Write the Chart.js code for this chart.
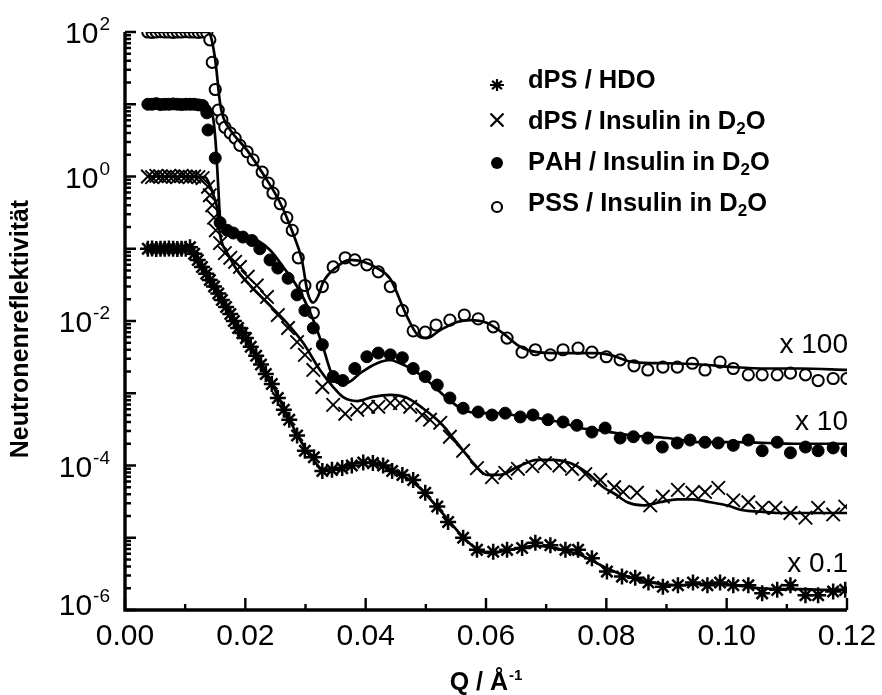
<!DOCTYPE html>
<html>
<head>
<meta charset="utf-8">
<style>
  html, body { margin: 0; padding: 0; background: #fff; }
  #wrap { width: 882px; height: 695px; }
</style>
<script src="https://cdn.jsdelivr.net/npm/chart.js@4.4.1/dist/chart.umd.min.js"></script>
</head>
<body>
<div id="wrap"><canvas id="refl" width="882" height="695"></canvas></div>
<script>
// dPS / HDO (x 0.1)
const qHDO = [0.0038, 0.0045, 0.0052, 0.0059, 0.0066, 0.0073, 0.0080, 0.0087, 0.0094, 0.0101,
  0.0108, 0.0115, 0.0121, 0.0128, 0.0135, 0.0141, 0.0148, 0.0155, 0.0161, 0.0168, 0.0175, 0.0181,
  0.0188, 0.0195, 0.0201, 0.0209, 0.0218, 0.0226, 0.0234, 0.0244, 0.0254, 0.0264, 0.0273, 0.0286,
  0.0299, 0.0314, 0.0328, 0.0344, 0.0361, 0.0377, 0.0396, 0.0412, 0.0429, 0.0444, 0.0461, 0.0479,
  0.0499, 0.0519, 0.0537, 0.0562, 0.0585, 0.0612, 0.0635, 0.0660, 0.0682, 0.0707, 0.0732, 0.0753,
  0.0776, 0.0801, 0.0826, 0.0848, 0.0870, 0.0894, 0.0919, 0.0944, 0.0968, 0.0989, 0.1011, 0.1036,
  0.1059, 0.1084, 0.1106, 0.1131, 0.1152, 0.1177, 0.1197];
const rHDO = [0.10, 0.101, 0.099, 0.10, 0.10, 0.101, 0.10, 0.099, 0.10, 0.10,
  0.105, 0.085, 0.070, 0.056, 0.045, 0.037, 0.030, 0.024, 0.0195, 0.0156, 0.0125, 0.0100,
  0.0080, 0.0068, 0.0058, 0.0044, 0.0033, 0.0025, 0.00185, 0.00134, 8.6e-4, 5.9e-4, 4.3e-4, 2.6e-4,
  1.6e-4, 1.3e-4, 8.4e-5, 8.7e-5, 9.2e-5, 1.0e-4, 1.1e-4, 1.08e-4, 1.0e-4, 8.4e-5, 7.4e-5, 6.3e-5,
  4.2e-5, 2.7e-5, 1.65e-5, 1.0e-5, 6.8e-6, 6.4e-6, 6.8e-6, 7.2e-6, 8.5e-6, 7.9e-6, 6.8e-6, 6.8e-6,
  5.2e-6, 3.4e-6, 2.9e-6, 2.8e-6, 2.4e-6, 2.1e-6, 2.2e-6, 2.4e-6, 2.2e-6, 2.4e-6, 2.2e-6, 2.2e-6,
  1.7e-6, 1.9e-6, 2.2e-6, 1.6e-6, 1.6e-6, 1.8e-6, 1.9e-6];
const qFitHDO = [0.0037, 0.0105, 0.0116, 0.0141, 0.0175, 0.0208, 0.0241, 0.0266, 0.0291, 0.0311,
  0.0328, 0.0344, 0.0366, 0.0391, 0.0416, 0.0441, 0.0466, 0.0490, 0.0515, 0.0540, 0.0565, 0.0587,
  0.0607, 0.0632, 0.0657, 0.0682, 0.0707, 0.0732, 0.0756, 0.0781, 0.0806, 0.0831, 0.0856, 0.0889,
  0.0923, 0.0956, 0.0989, 0.1022, 0.1056, 0.1089, 0.1122, 0.1155, 0.12];
const rFitHDO = [0.1, 0.1, 0.079, 0.037, 0.0125, 0.0045, 0.00153, 5.7e-4, 2.25e-4, 1.27e-4,
  8.9e-5, 8.7e-5, 9.8e-5, 1.1e-4, 1.08e-4, 8.9e-5, 6.9e-5, 4.9e-5, 2.9e-5, 1.65e-5, 9.6e-6, 6.8e-6,
  6.1e-6, 6.6e-6, 7.2e-6, 7.7e-6, 7.4e-6, 6.6e-6, 5.8e-6, 4.6e-6, 3.6e-6, 3.0e-6, 2.6e-6, 2.3e-6,
  2.2e-6, 2.3e-6, 2.3e-6, 2.15e-6, 2.0e-6, 1.95e-6, 1.95e-6, 1.9e-6, 1.9e-6];

// dPS / Insulin in D2O (x 1)
const qIns = [0.0038, 0.0045, 0.0052, 0.0059, 0.0066, 0.0073, 0.0080, 0.0087, 0.0094, 0.0101,
  0.0108, 0.0115, 0.0122, 0.0129,
  0.0138, 0.0141, 0.0145, 0.0148, 0.0151, 0.0158, 0.0166, 0.0175, 0.0183, 0.0191, 0.0204, 0.0219,
  0.0236, 0.0254, 0.0271, 0.0286, 0.0299, 0.0313, 0.0328, 0.0346, 0.0366, 0.0386, 0.0404, 0.0421,
  0.0441, 0.0457, 0.0474, 0.0494, 0.0507, 0.0524, 0.0540, 0.0562, 0.0585, 0.0610, 0.0632, 0.0653,
  0.0677, 0.0698, 0.0722, 0.0743, 0.0765, 0.0790, 0.0813, 0.0828, 0.0851, 0.0873, 0.0894, 0.0919,
  0.0943, 0.0964, 0.0986, 0.1011, 0.1036, 0.1059, 0.1081, 0.1106, 0.1131, 0.1152, 0.1177, 0.1197];
const rIns = [1.0, 0.98, 1.02, 1.0, 0.99, 1.01, 1.0, 0.98, 1.02, 1.0,
  0.99, 1.0, 0.98, 0.95,
  0.72, 0.55, 0.40, 0.27, 0.18, 0.12, 0.087, 0.075, 0.066, 0.056, 0.041, 0.031,
  0.0215, 0.0121, 0.0080, 0.0051, 0.0034, 0.0021, 0.00122, 6.9e-4, 5.2e-4, 5.9e-4, 6.5e-4, 6.5e-4,
  7.3e-4, 7.3e-4, 6.5e-4, 5.0e-4, 4.3e-4, 3.9e-4, 2.5e-4, 1.6e-4, 9.2e-5, 6.9e-5, 7.9e-5, 9.0e-5,
  9.8e-5, 1.08e-4, 1.0e-4, 9.0e-5, 7.6e-5, 6.3e-5, 5.0e-5, 4.3e-5, 4.2e-5, 2.8e-5, 3.7e-5, 4.6e-5,
  4.2e-5, 4.3e-5, 4.9e-5, 3.3e-5, 3.1e-5, 2.6e-5, 2.6e-5, 2.2e-5, 1.9e-5, 2.6e-5, 2.1e-5, 2.7e-5];
const qFitIns = [0.0037, 0.0133, 0.0141, 0.0148, 0.0153, 0.0156, 0.0160, 0.0170, 0.0186, 0.0208,
  0.0236, 0.0269, 0.0296, 0.0324, 0.0346, 0.0362, 0.0386, 0.0412, 0.0441, 0.0469, 0.0495, 0.0524,
  0.0552, 0.0579, 0.0602, 0.0623, 0.0652, 0.0685, 0.0712, 0.0740, 0.0768, 0.0795, 0.0815, 0.0835,
  0.0861, 0.0889, 0.0918, 0.0944, 0.0973, 0.1001, 0.1027, 0.1056, 0.1084, 0.1122, 0.12];
const rFitIns = [1.0, 0.98, 0.76, 0.52, 0.37, 0.21, 0.13, 0.087, 0.051, 0.031,
  0.018, 0.0094, 0.0050, 0.0021, 0.00122, 8.9e-4, 7.8e-4, 8.9e-4, 9.5e-4, 8.6e-4, 6.2e-4, 3.9e-4,
  2.05e-4, 1.08e-4, 7.4e-5, 7.4e-5, 9.5e-5, 1.2e-4, 1.2e-4, 1.08e-4, 7.9e-5, 5.0e-5, 4.0e-5, 3.1e-5,
  2.8e-5, 3.1e-5, 3.4e-5, 3.4e-5, 3.1e-5, 2.8e-5, 2.4e-5, 2.3e-5, 2.2e-5, 2.2e-5, 2.2e-5];

// PAH / Insulin in D2O (x 10)
const qPAH = [0.0038, 0.0045, 0.0052, 0.0059, 0.0066, 0.0073, 0.0080, 0.0087, 0.0094, 0.0101,
  0.0108, 0.0115, 0.0122, 0.0129,
  0.0136, 0.0138, 0.0150, 0.0158, 0.0170, 0.0180, 0.0196, 0.0211, 0.0224, 0.0241, 0.0254, 0.0271,
  0.0286, 0.0299, 0.0313, 0.0328, 0.0346, 0.0362, 0.0382, 0.0402, 0.0421, 0.0441, 0.0461, 0.0479,
  0.0499, 0.0519, 0.0540, 0.0562, 0.0587, 0.0610, 0.0632, 0.0657, 0.0678, 0.0703, 0.0728, 0.0751,
  0.0776, 0.0798, 0.0823, 0.0845, 0.0869, 0.0893, 0.0918, 0.0939, 0.0964, 0.0986, 0.1011, 0.1036,
  0.1059, 0.1084, 0.1106, 0.1131, 0.1152, 0.1177, 0.1200];
const rPAH = [10, 10, 10.2, 9.9, 10, 10, 10.1, 10, 9.9, 10,
  10, 10, 9.8, 9.6,
  7.6, 4.4, 1.8, 0.23, 0.18, 0.165, 0.145, 0.13, 0.10, 0.070, 0.054, 0.039,
  0.023, 0.014, 0.0080, 0.0047, 0.0017, 0.0015, 0.0022, 0.0032, 0.0036, 0.0034, 0.0031, 0.0022,
  0.0017, 0.0013, 8.6e-4, 6.2e-4, 5.5e-4, 5.0e-4, 5.3e-4, 4.7e-4, 5.0e-4, 4.3e-4, 4.0e-4, 3.6e-4,
  2.9e-4, 3.3e-4, 2.4e-4, 2.5e-4, 2.4e-4, 1.8e-4, 2.05e-4, 2.25e-4, 2.1e-4, 2.05e-4, 1.9e-4, 2.25e-4,
  1.6e-4, 2.1e-4, 1.5e-4, 1.8e-4, 1.6e-4, 1.75e-4, 1.6e-4];
const qFitPAH = [0.0037, 0.0133, 0.0146, 0.0151, 0.0155, 0.0158, 0.0166, 0.0191, 0.0219, 0.0241,
  0.0263, 0.0286, 0.0308, 0.0329, 0.0341, 0.0352, 0.0369, 0.0391, 0.0419, 0.0441, 0.0452, 0.0479,
  0.0507, 0.0535, 0.0562, 0.0590, 0.0618, 0.0645, 0.0673, 0.0702, 0.0728, 0.0756, 0.0785, 0.0806,
  0.0845, 0.0901, 0.0956, 0.1011, 0.1067, 0.1122, 0.12];
const rFitPAH = [10, 9.8, 6.7, 2.7, 0.72, 0.275, 0.21, 0.165, 0.132, 0.096,
  0.056, 0.030, 0.013, 0.0044, 0.0021, 0.0014, 0.0014, 0.0019, 0.0026, 0.0029, 0.0027, 0.0021,
  0.0014, 8.6e-4, 5.9e-4, 5.3e-4, 5.3e-4, 5.0e-4, 4.7e-4, 4.3e-4, 3.9e-4, 3.3e-4, 3.1e-4, 2.9e-4,
  2.6e-4, 2.4e-4, 2.1e-4, 2.1e-4, 2.05e-4, 2.0e-4, 2.0e-4];

// PSS / Insulin in D2O (x 100)
const qPSS = [0.0038, 0.0045, 0.0052, 0.0059, 0.0066, 0.0073, 0.0080, 0.0087, 0.0094, 0.0101,
  0.0108, 0.0115, 0.0122, 0.0129, 0.0136,
  0.0141, 0.0145, 0.0150, 0.0155, 0.0161, 0.0166, 0.0175, 0.0183, 0.0191, 0.0203, 0.0213, 0.0228,
  0.0238, 0.0246, 0.0258, 0.0269, 0.0278, 0.0288, 0.0299, 0.0313, 0.0328, 0.0346, 0.0366, 0.0382,
  0.0402, 0.0421, 0.0441, 0.0461, 0.0479, 0.0499, 0.0517, 0.0540, 0.0564, 0.0587, 0.0612, 0.0635,
  0.0660, 0.0682, 0.0707, 0.0728, 0.0753, 0.0776, 0.0800, 0.0823, 0.0846, 0.0869, 0.0894, 0.0918,
  0.0943, 0.0964, 0.0989, 0.1011, 0.1036, 0.1059, 0.1084, 0.1106, 0.1131, 0.1152, 0.1177, 0.1200];
const rPSS = [100, 99, 100, 101, 100, 100, 99, 100, 100, 101,
  100, 100, 99, 100, 98,
  78, 38, 16, 8.3, 6.1, 4.8, 4.0, 3.4, 2.7, 2.2, 1.7, 1.15,
  0.81, 0.59, 0.42, 0.27, 0.18, 0.075, 0.031, 0.013, 0.030, 0.056, 0.075, 0.070,
  0.060, 0.048, 0.030, 0.014, 0.0073, 0.0070, 0.0088, 0.0103, 0.0121, 0.0107, 0.0083, 0.0058,
  0.0037, 0.0040, 0.0034, 0.0040, 0.0042, 0.0037, 0.0032, 0.0029, 0.0024, 0.0021, 0.0023, 0.0023,
  0.0026, 0.0021, 0.0027, 0.0022, 0.0018, 0.0018, 0.0018, 0.0019, 0.0018, 0.0015, 0.0016, 0.0016];
const qFitPSS = [0.0037, 0.0136, 0.0141, 0.0150, 0.0158, 0.0163, 0.0175, 0.0203, 0.0229, 0.0258,
  0.0279, 0.0294, 0.0304, 0.0313, 0.0321, 0.0329, 0.0352, 0.0374, 0.0396, 0.0419, 0.0441, 0.0469,
  0.0490, 0.0502, 0.0524, 0.0552, 0.0574, 0.0602, 0.0628, 0.0657, 0.0685, 0.0718, 0.0751, 0.0785,
  0.0806, 0.0845, 0.0901, 0.0956, 0.1011, 0.1067, 0.1122, 0.12];
const rFitPSS = [100, 100, 94, 41, 10.4, 6.7, 4.4, 2.3, 1.1, 0.43,
  0.165, 0.070, 0.024, 0.018, 0.022, 0.034, 0.056, 0.070, 0.066, 0.054, 0.038, 0.0114,
  0.0060, 0.0058, 0.0075, 0.0097, 0.0103, 0.0094, 0.0068, 0.0044, 0.0037, 0.0036, 0.0036, 0.0036,
  0.0034, 0.0027, 0.0026, 0.0025, 0.0023, 0.0022, 0.0022, 0.0021];

const legendLabels = ['dPS / HDO', 'dPS / Insulin in D₂O', 'PAH / Insulin in D₂O', 'PSS / Insulin in D₂O'];
const xTicksMajor = [0, 0.02, 0.04, 0.06, 0.08, 0.10, 0.12];
const xTickLabels = ['0.00', '0.02', '0.04', '0.06', '0.08', '0.10', '0.12'];
const xTicksMinor = [0.01, 0.03, 0.05, 0.07, 0.09, 0.11];
const yDecades = [-6, -5, -4, -3, -2, -1, 0, 1, 2];
const yLabelExps = [-6, -4, -2, 0, 2];
const factorLabels = ['x 100', 'x 10', 'x 0.1'];
const factorLevels = [3.6e-3, 3.1e-4, 3.4e-6];

const FONT = '"Liberation Sans", Arial, Helvetica, sans-serif';

function pts(q, r) {
  return q.map((v, i) => ({ x: v, y: r[i] }));
}

function markerSet(label, q, r, style, radius, fill, bw) {
  return {
    label: label,
    data: pts(q, r),
    showLine: false,
    pointStyle: style,
    pointRadius: radius,
    pointBorderWidth: bw,
    pointBackgroundColor: fill,
    pointBorderColor: '#000',
    order: 2
  };
}

function fitSet(q, r) {
  return {
    label: 'fit',
    data: pts(q, r),
    showLine: true,
    borderColor: '#000',
    borderWidth: 2.7,
    pointRadius: 0,
    cubicInterpolationMode: 'monotone',
    order: 1
  };
}

// text with a raised exponent
function textWithSup(ctx, base, sup, x, baseY, size, supSize, align, bold) {
  const w = bold ? 'bold ' : '';
  ctx.font = w + size + 'px ' + FONT;
  const wb = ctx.measureText(base).width;
  ctx.font = w + supSize + 'px ' + FONT;
  const ws = ctx.measureText(sup).width;
  let left = x;
  if (align === 'right') left = x - wb - ws - 1;
  if (align === 'center') left = x - (wb + ws + 1) / 2;
  ctx.textAlign = 'left';
  ctx.textBaseline = 'alphabetic';
  ctx.font = w + size + 'px ' + FONT;
  ctx.fillText(base, left, baseY);
  ctx.font = w + supSize + 'px ' + FONT;
  ctx.fillText(sup, left + wb + 1, baseY - size * 0.42);
}

function textWithSub(ctx, str, x, baseY, size, subSize) {
  let cx = x;
  for (const ch of str) {
    if (ch === '₂') {
      ctx.font = 'bold ' + subSize + 'px ' + FONT;
      ctx.fillText('2', cx, baseY + 5);
      cx += ctx.measureText('2').width;
    } else {
      ctx.font = 'bold ' + size + 'px ' + FONT;
      ctx.fillText(ch, cx, baseY);
      cx += ctx.measureText(ch).width;
    }
  }
}

function legendMarker(ctx, kind, x, y) {
  ctx.save();
  ctx.strokeStyle = '#000';
  ctx.fillStyle = '#000';
  ctx.lineWidth = 2.2;
  ctx.beginPath();
  if (kind === 0) {
    const r = 7;
    for (let k = 0; k < 4; k++) {
      const a = k * Math.PI / 4;
      ctx.moveTo(x - r * Math.cos(a), y - r * Math.sin(a) * 0.85);
      ctx.lineTo(x + r * Math.cos(a), y + r * Math.sin(a) * 0.85);
    }
    ctx.stroke();
  } else if (kind === 1) {
    const r = 6.5;
    ctx.moveTo(x - r, y - r); ctx.lineTo(x + r, y + r);
    ctx.moveTo(x + r, y - r); ctx.lineTo(x - r, y + r);
    ctx.stroke();
  } else if (kind === 2) {
    ctx.arc(x, y, 6, 0, Math.PI * 2);
    ctx.fill();
  } else {
    ctx.arc(x, y, 5, 0, Math.PI * 2);
    ctx.stroke();
  }
  ctx.restore();
}

const decoPlugin = {
  id: 'deco',
  afterDraw(chart) {
    const ctx = chart.ctx;
    const a = chart.chartArea;
    const xs = chart.scales.x;
    const ys = chart.scales.y;
    ctx.save();
    ctx.strokeStyle = '#000';
    ctx.fillStyle = '#000';

    // ticks point inward
    ctx.lineWidth = 2.4;
    ctx.beginPath();
    xTicksMajor.forEach(v => {
      const px = xs.getPixelForValue(v);
      ctx.moveTo(px, a.bottom); ctx.lineTo(px, a.bottom - 12);
    });
    xTicksMinor.forEach(v => {
      const px = xs.getPixelForValue(v);
      ctx.moveTo(px, a.bottom); ctx.lineTo(px, a.bottom - 6);
    });
    yDecades.forEach(d => {
      const py = ys.getPixelForValue(Math.pow(10, d));
      ctx.moveTo(a.left, py); ctx.lineTo(a.left + 11, py);
      if (d < 2) {
        for (let m = 2; m <= 9; m++) {
          const p = ys.getPixelForValue(m * Math.pow(10, d));
          ctx.moveTo(a.left, p); ctx.lineTo(a.left + 6, p);
        }
      }
    });
    ctx.stroke();

    // axis lines
    ctx.lineWidth = 3.4;
    ctx.beginPath();
    ctx.moveTo(a.left, a.top);
    ctx.lineTo(a.left, a.bottom);
    ctx.lineTo(a.right, a.bottom);
    ctx.stroke();

    // x tick labels
    ctx.font = '30px ' + FONT;
    ctx.textAlign = 'center';
    ctx.textBaseline = 'alphabetic';
    xTicksMajor.forEach((v, i) => {
      ctx.fillText(xTickLabels[i], xs.getPixelForValue(v), a.bottom + 35);
    });

    // y tick labels 10^n
    yLabelExps.forEach(e => {
      let py = ys.getPixelForValue(Math.pow(10, e));
      if (e === -6) py -= 6;
      textWithSup(ctx, '10', String(e), 110, py + 11, 30, 19, 'right', false);
    });

    // axis titles
    textWithSup(ctx, 'Q / Å', '-1', (a.left + a.right) / 2, a.bottom + 80, 25, 15, 'center', true);
    ctx.save();
    ctx.translate(28, 329);
    ctx.rotate(-Math.PI / 2);
    ctx.font = 'bold 25px ' + FONT;
    ctx.textAlign = 'center';
    ctx.textBaseline = 'alphabetic';
    ctx.fillText('Neutronenreflektivität', 0, 0);
    ctx.restore();

    // scale factors
    ctx.font = '28px ' + FONT;
    ctx.textAlign = 'right';
    factorLabels.forEach((t, i) => {
      ctx.fillText(t, a.right + 1, ys.getPixelForValue(factorLevels[i]));
    });

    // legend
    const rowBase = [88, 129, 170, 211];
    const markY = [85, 120, 163, 207];
    ctx.textAlign = 'left';
    legendLabels.forEach((t, i) => {
      legendMarker(ctx, i, 497, markY[i]);
      textWithSub(ctx, t, 528, rowBase[i], 25.5, 17);
    });
    ctx.restore();
  }
};

new Chart(document.getElementById('refl'), {
  type: 'scatter',
  data: {
    datasets: [
      markerSet(legendLabels[0], qHDO, rHDO, 'star', 8, '#000', 2.5),
      markerSet(legendLabels[1], qIns, rIns, 'crossRot', 9.5, '#000', 1.9),
      markerSet(legendLabels[2], qPAH, rPAH, 'circle', 6, '#000', 1),
      markerSet(legendLabels[3], qPSS, rPSS, 'circle', 5.6, '#fff', 2),
      fitSet(qFitHDO, rFitHDO),
      fitSet(qFitIns, rFitIns),
      fitSet(qFitPAH, rFitPAH),
      fitSet(qFitPSS, rFitPSS)
    ]
  },
  options: {
    responsive: false,
    animation: false,
    devicePixelRatio: 1,
    layout: { padding: { left: 125, right: 35, top: 32, bottom: 85 } },
    plugins: { legend: { display: false }, tooltip: { enabled: false } },
    scales: {
      x: { type: 'linear', min: 0, max: 0.12, display: false },
      y: { type: 'logarithmic', min: 1e-6, max: 1e2, display: false }
    }
  },
  plugins: [decoPlugin]
});
</script>
</body>
</html>
